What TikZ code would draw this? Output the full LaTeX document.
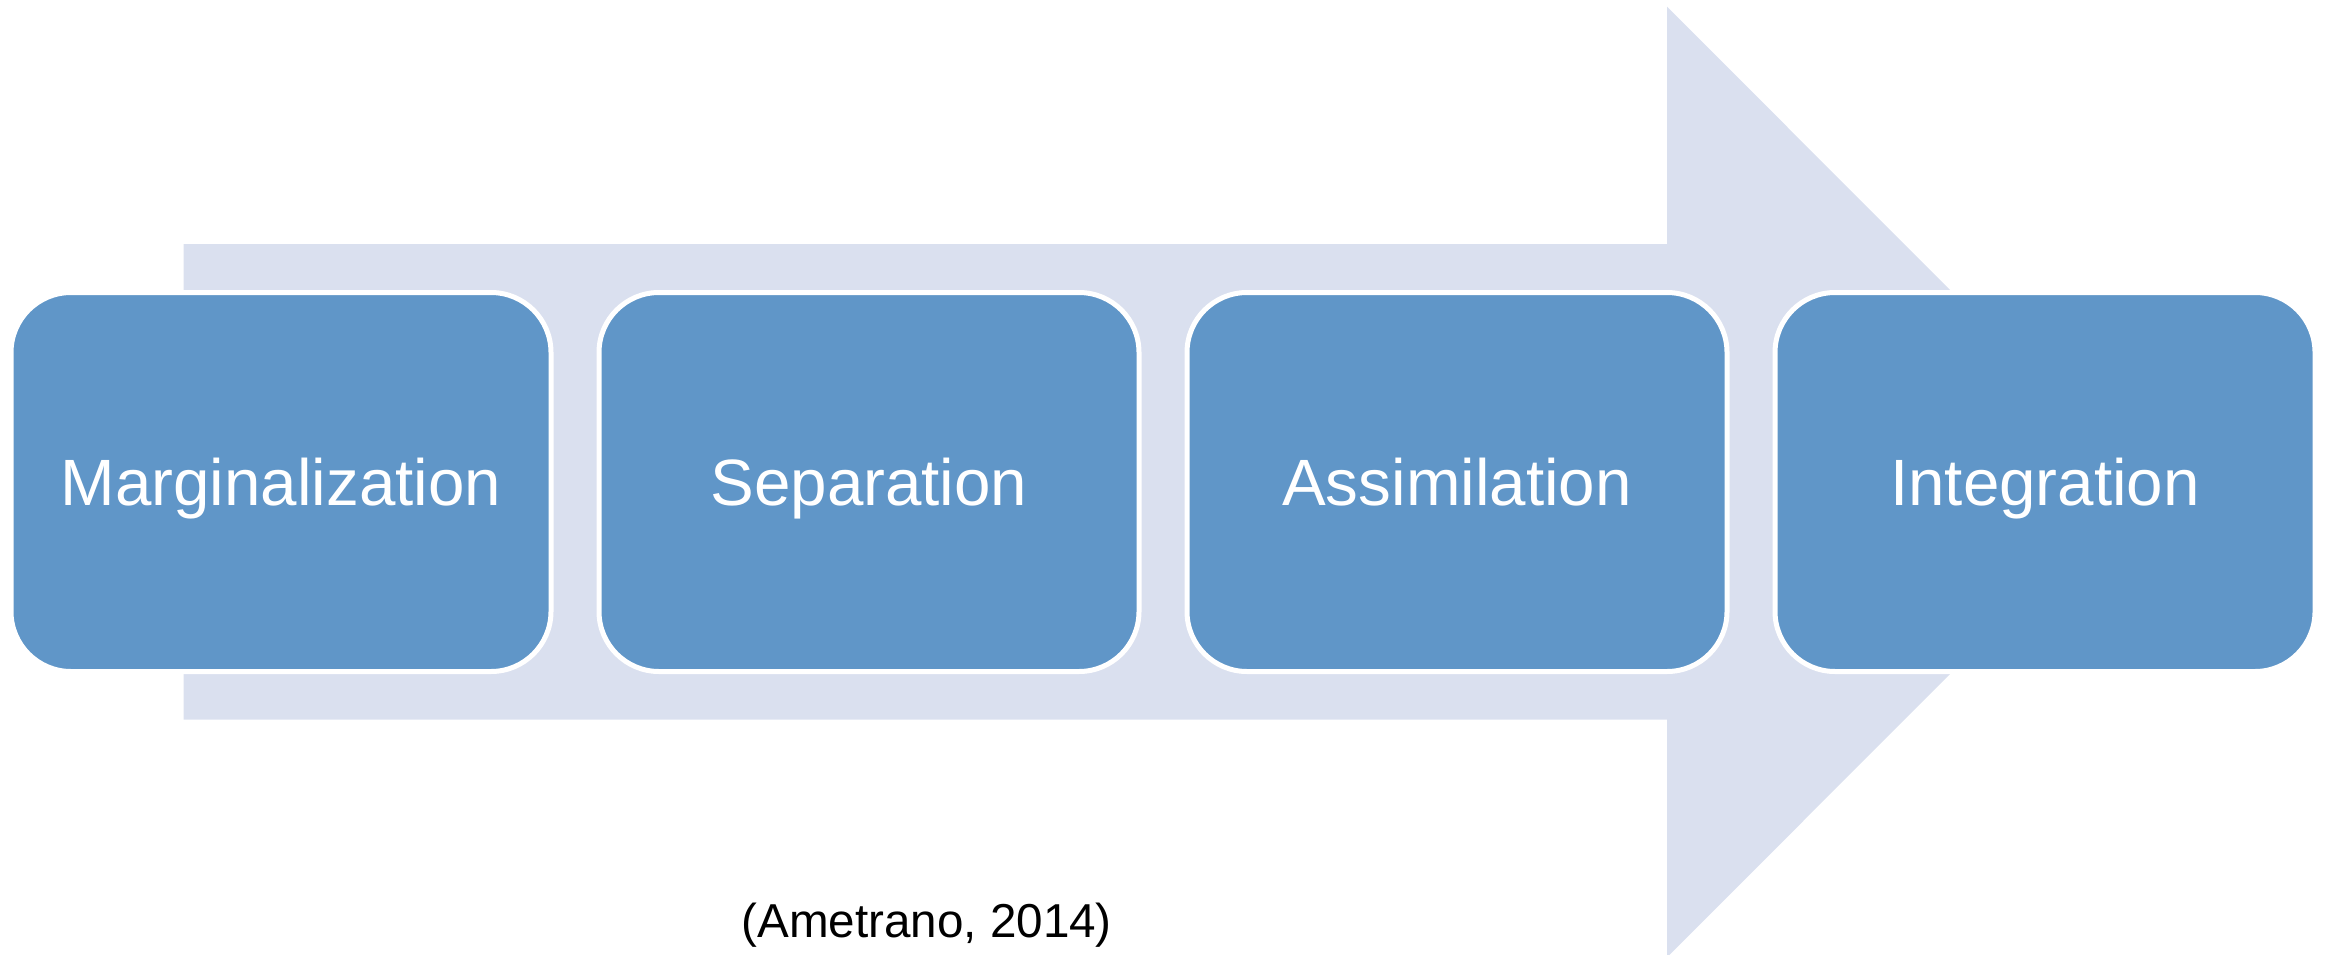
\documentclass[tikz,border=0pt]{standalone}
\usepackage{fontspec}
\setmainfont{Liberation Sans}
\definecolor{stageblue}{RGB}{96,150,200}
\definecolor{arrowgrey}{RGB}{218,224,239}
\tikzset{
  stage/.style={draw=white, line width=5pt, fill=stageblue, rounded corners=60pt,
    minimum width=540pt, minimum height=379pt, inner sep=0pt,
    text=white, font=\fontsize{65.5}{78}\selectfont,
    text height=46.9pt, text depth=0pt},
}
\begin{document}
\begin{tikzpicture}[x=1pt,y=-1pt]
\useasboundingbox (0,0) rectangle (2325,955);
% big arrow behind
\fill[arrowgrey] (183.7,244) -- (1667,244) -- (1667,6.7) -- (2142,482)
  -- (1667,957.3) -- (1667,719.5) -- (183.7,719.5) -- cycle;
%
\node (marg)  at (281,482)  [stage] {Marginalization};
\node (sep)   at (869,482)  [stage] {Separation};
\node (assim) at (1457,482) [stage] {Assimilation};
\node (integ) at (2045,482) [stage] {Integration};
%
\node (cite) at (926.7,937.3) [anchor=base, font=\fontsize{47.6}{57}\selectfont] {(Ametrano, 2014)};
\end{tikzpicture}
\end{document}
